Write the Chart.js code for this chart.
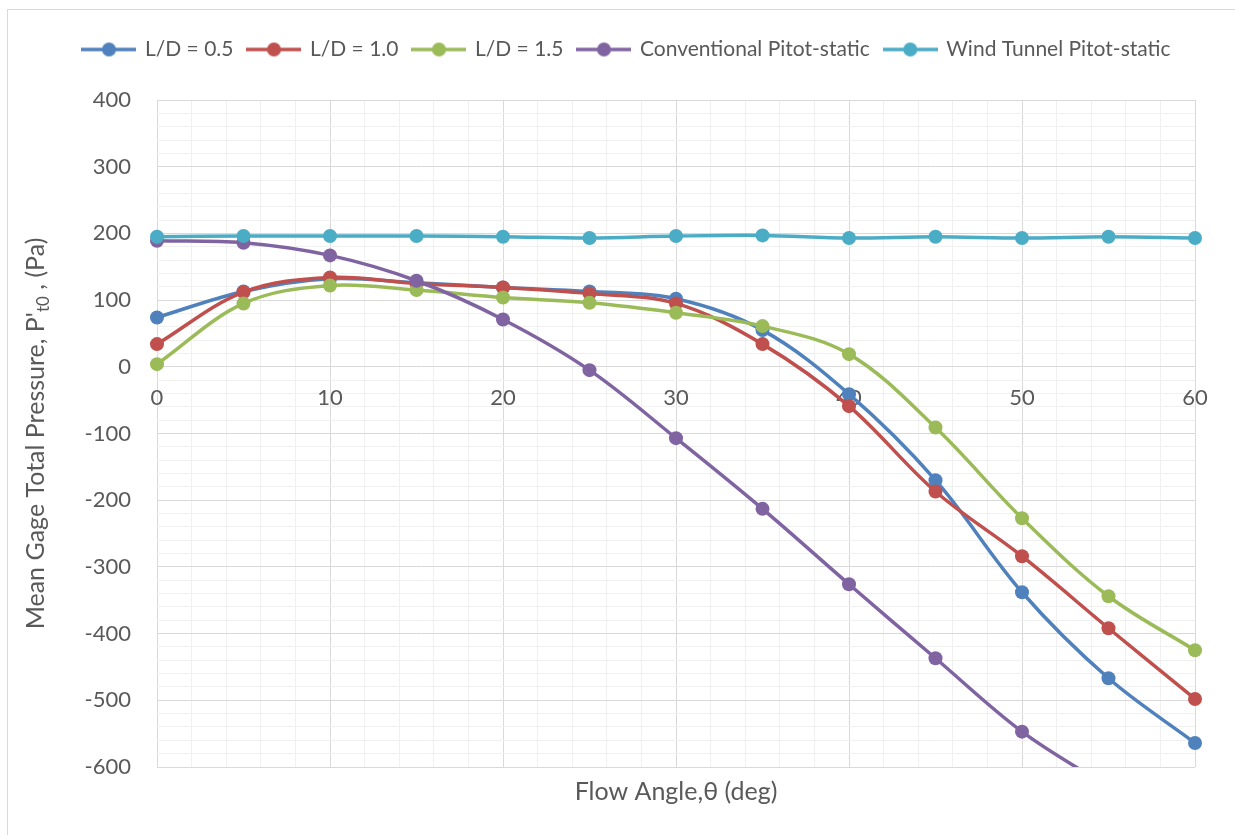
<!DOCTYPE html>
<html><head><meta charset="utf-8">
<script src="https://cdn.jsdelivr.net/npm/chart.js@4.4.1/dist/chart.umd.min.js"></script>
<style>
html,body{margin:0;padding:0;background:#fff;overflow:hidden;}
#wrap{position:relative;width:1235px;height:835px;}
#frame{position:absolute;left:7px;top:9px;width:1300px;height:900px;border:1px solid #d9d9d9;box-sizing:border-box;}
canvas{position:absolute;left:0;top:0;}
</style></head><body>
<div id="wrap"><div id="frame"></div><canvas id="c" width="1235" height="835"></canvas></div>
<script>
// ---- data ----
const angles = [0, 5, 10, 15, 20, 25, 30, 35, 40, 45, 50, 55, 60];
const ld05 = [74, 113, 132, 126, 119, 113, 102, 55, -41, -170, -338, -467, -564];
const ld10 = [34, 112, 134, 125, 119, 110, 95, 34, -59, -187, -284, -392, -498];
const ld15 = [4, 95, 122, 115, 104, 96, 81, 61, 19, -91, -227, -344, -425];
const conventional = [189, 186, 167, 129, 71, -5, -107, -213, -326, -437, -547, -630, -712];
const windTunnel = [195, 196, 196, 196, 195, 193, 196, 197, 193, 195, 193, 195, 193];
const seriesNames = ['L/D = 0.5', 'L/D = 1.0', 'L/D = 1.5', 'Conventional Pitot-static', 'Wind Tunnel Pitot-static'];
const seriesColors = ['#4F81BD', '#C0504D', '#9BBB59', '#8064A2', '#4BACC6'];
const xTickLabels = ['0', '10', '20', '30', '40', '50', '60'];
const yTickLabels = ['-600', '-500', '-400', '-300', '-200', '-100', '0', '100', '200', '300', '400'];
const xTitle = 'Flow Angle,\u03B8 (deg)';
const yTitleMain = "Mean Gage Total Pressure, P'";
const yTitleSub = 't0';
const yTitleTail = ' , (Pa)';

const TEXT = '#595959', MAJOR = '#d9d9d9', MINOR = '#f0f0f0';
const FONT = 'Lato';
Chart.defaults.font.family = FONT;
Chart.defaults.color = TEXT;

const seriesValues = [ld05, ld10, ld15, conventional, windTunnel];

function legendIcon(color) {
  const c = document.createElement('canvas');
  c.width = 55; c.height = 16;
  const g = c.getContext('2d');
  g.strokeStyle = color; g.lineWidth = 3.5;
  g.beginPath(); g.moveTo(0, 8); g.lineTo(55, 8); g.stroke();
  g.fillStyle = color;
  g.beginPath(); g.arc(27.5, 8, 7, 0, Math.PI * 2); g.fill();
  return c;
}
const icons = seriesColors.map(legendIcon);

const datasets = seriesValues.map((vals, i) => ({
  label: seriesNames[i],
  data: angles.map((a, j) => ({ x: a, y: vals[j] })),
  borderColor: seriesColors[i],
  backgroundColor: seriesColors[i],
  pointBackgroundColor: seriesColors[i],
  pointBorderColor: seriesColors[i],
  pointBorderWidth: 0,
  pointRadius: 7,
  pointHoverRadius: 7,
  borderWidth: 3.5,
  tension: 0.35,
  fill: false,
  order: seriesValues.length - i,
  clip: { left: 10, top: 10, right: 10, bottom: 0 }
}));

const yTitlePlugin = {
  id: 'yTitle',
  afterInit(chart) {
    const lg = chart.legend;
    if (lg) {
      const f = lg.fit.bind(lg);
      lg.fit = function () { f(); this.height = 76; };
    }
  },
  afterDraw(chart) {
    const ctx = chart.ctx;
    const ca = chart.chartArea;
    const cy = (ca.top + ca.bottom) / 2;
    const mainFont = '25px ' + FONT, subFont = '17px ' + FONT;
    ctx.save();
    ctx.font = mainFont;
    const w1 = ctx.measureText(yTitleMain).width;
    const w3 = ctx.measureText(yTitleTail).width;
    ctx.font = subFont;
    const w2 = ctx.measureText(yTitleSub).width;
    const total = w1 + w2 + w3;
    ctx.translate(44, cy);
    ctx.rotate(-Math.PI / 2);
    ctx.fillStyle = TEXT;
    ctx.textAlign = 'left';
    ctx.textBaseline = 'alphabetic';
    let x = -total / 2;
    ctx.font = mainFont; ctx.fillText(yTitleMain, x, 0); x += w1;
    ctx.font = subFont; ctx.fillText(yTitleSub, x, 5); x += w2;
    ctx.font = mainFont; ctx.fillText(yTitleTail, x, 0);
    ctx.restore();
  }
};

new Chart(document.getElementById('c'), {
  type: 'line',
  data: { datasets },
  options: {
    responsive: false,
    animation: false,
    events: [],
    layout: { padding: { top: 24, left: 19, right: 0, bottom: 0 } },
    plugins: {
      tooltip: { enabled: false },
      legend: {
        display: true,
        position: 'top',
        labels: {
          usePointStyle: true,
          pointStyleWidth: 51,
          padding: 15,
          font: { size: 21, family: FONT },
          color: TEXT,
          generateLabels(chart) {
            return chart.data.datasets.map((ds, i) => ({
              text: ds.label,
              fillStyle: ds.borderColor,
              strokeStyle: ds.borderColor,
              lineWidth: 0,
              pointStyle: icons[i],
              hidden: !chart.isDatasetVisible(i),
              datasetIndex: i,
              fontColor: TEXT
            }));
          }
        }
      }
    },
    scales: {
      x: {
        type: 'linear', position: 'bottom', min: 0, max: 60,
        ticks: { display: false, stepSize: 2, autoSkip: false },
        grid: {
          drawTicks: false,
          color: c => (c.tick && Math.round(c.tick.value) % 10 === 0) ? MAJOR : MINOR
        },
        border: { display: false },
        title: { display: true, text: xTitle, color: TEXT, font: { size: 25, family: FONT }, padding: { top: 0, bottom: 28 } },
        afterFit(s) { s.height = 68; }
      },
      x2: {
        type: 'linear', axis: 'x', position: { y: 0 }, min: 0, max: 60,
        ticks: {
          stepSize: 10, autoSkip: false, padding: 18, color: TEXT, font: { size: 22, family: FONT },
          callback: v => xTickLabels.includes(String(Math.round(v))) ? String(Math.round(v)) : ''
        },
        grid: { display: false, drawTicks: false },
        border: { display: false }
      },
      y: {
        type: 'linear', position: 'left', min: -600, max: 400,
        ticks: {
          stepSize: 20, autoSkip: false, padding: 26, color: TEXT, font: { size: 22, family: FONT },
          callback: v => yTickLabels.includes(String(Math.round(v))) ? String(Math.round(v)) : ''
        },
        grid: {
          drawTicks: false,
          color: c => (c.tick && Math.round(c.tick.value) % 100 === 0) ? MAJOR : MINOR
        },
        border: { display: false },
        afterFit(s) { s.width = 138; }
      },
      yr: {
        type: 'linear', position: 'right', display: true,
        ticks: { display: false },
        grid: { display: false, drawTicks: false },
        border: { display: false },
        afterFit(s) { s.width = 40; }
      }
    }
  },
  plugins: [yTitlePlugin]
});
</script>
</body></html>
